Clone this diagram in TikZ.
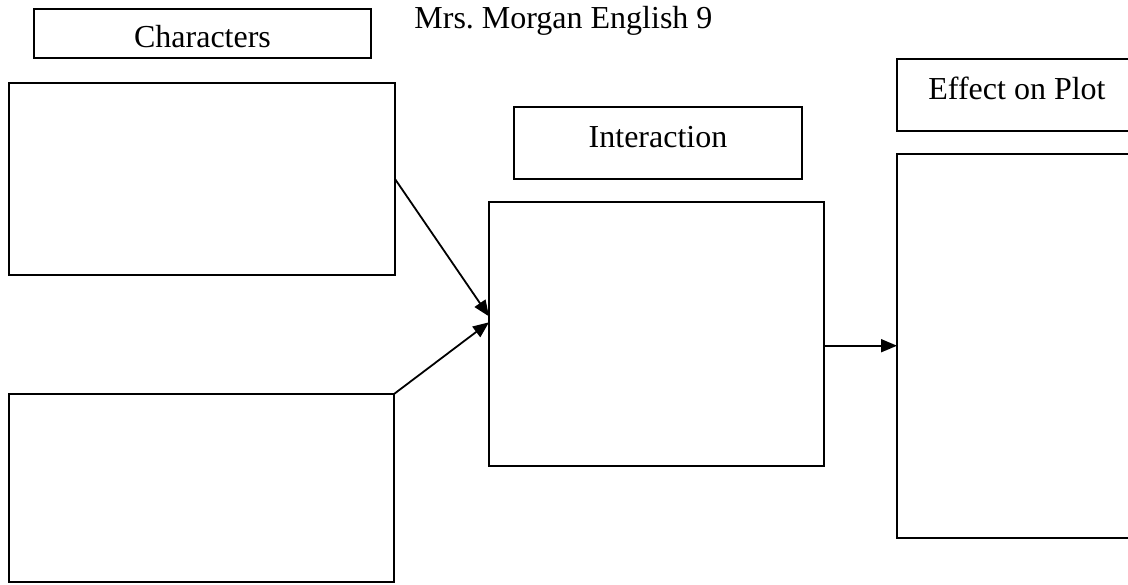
\documentclass[tikz,border=0pt]{standalone}
\usepackage{fontspec}
\setmainfont{Liberation Serif}
\usetikzlibrary{arrows.meta}

\begin{document}
\frenchspacing
\begin{tikzpicture}[x=0.5pt,y=-0.5pt,>={Triangle[length=8pt,width=6.5pt]},font=\fontsize{16}{18}\selectfont]
    \tikzstyle{box}=[draw=black,line width=0.75pt,inner sep=0pt,outer sep=0pt]
    \tikzstyle{title box}=[box,text depth=0pt,text height=4pt]
    \tikzstyle{link}=[->,draw=black,line width=0.9pt]
    \useasboundingbox (0,0) rectangle (1128,584);
    % Draw the title boxes
    \node[title box,minimum width=168.5pt,minimum height=24.5pt,text height=13.5pt] (Ct) at (202.5,33.5) {Characters};
    \node[anchor=base west,inner sep=0pt] (T) at (414,28) {Mrs. Morgan English 9};
    \node[title box,minimum width=144pt,minimum height=36pt] (It) at (658,143) {Interaction};
    \node[title box,minimum width=120pt,minimum height=36pt] (Et) at (1017,95) {Effect on Plot};
    % Draw the empty boxes
    \node[box,minimum width=193pt,minimum height=96pt] (C1) at (202,179) {};
    \node[box,minimum width=192.5pt,minimum height=94pt] (C2) at (201.5,488) {};
    \node[box,minimum width=167.5pt,minimum height=132pt] (I) at (656.5,334) {};
    \node[box,minimum width=120pt,minimum height=192pt] (E) at (1017,346) {};
    % Connect the layers
    \draw[link] (C1.east) -- (I.174);
    \draw[link] (C2.north east) -- (I.176);
    \draw[link] (I.-4.4) -- (I.-4.4 -| E.west);
\end{tikzpicture}
\end{document}
